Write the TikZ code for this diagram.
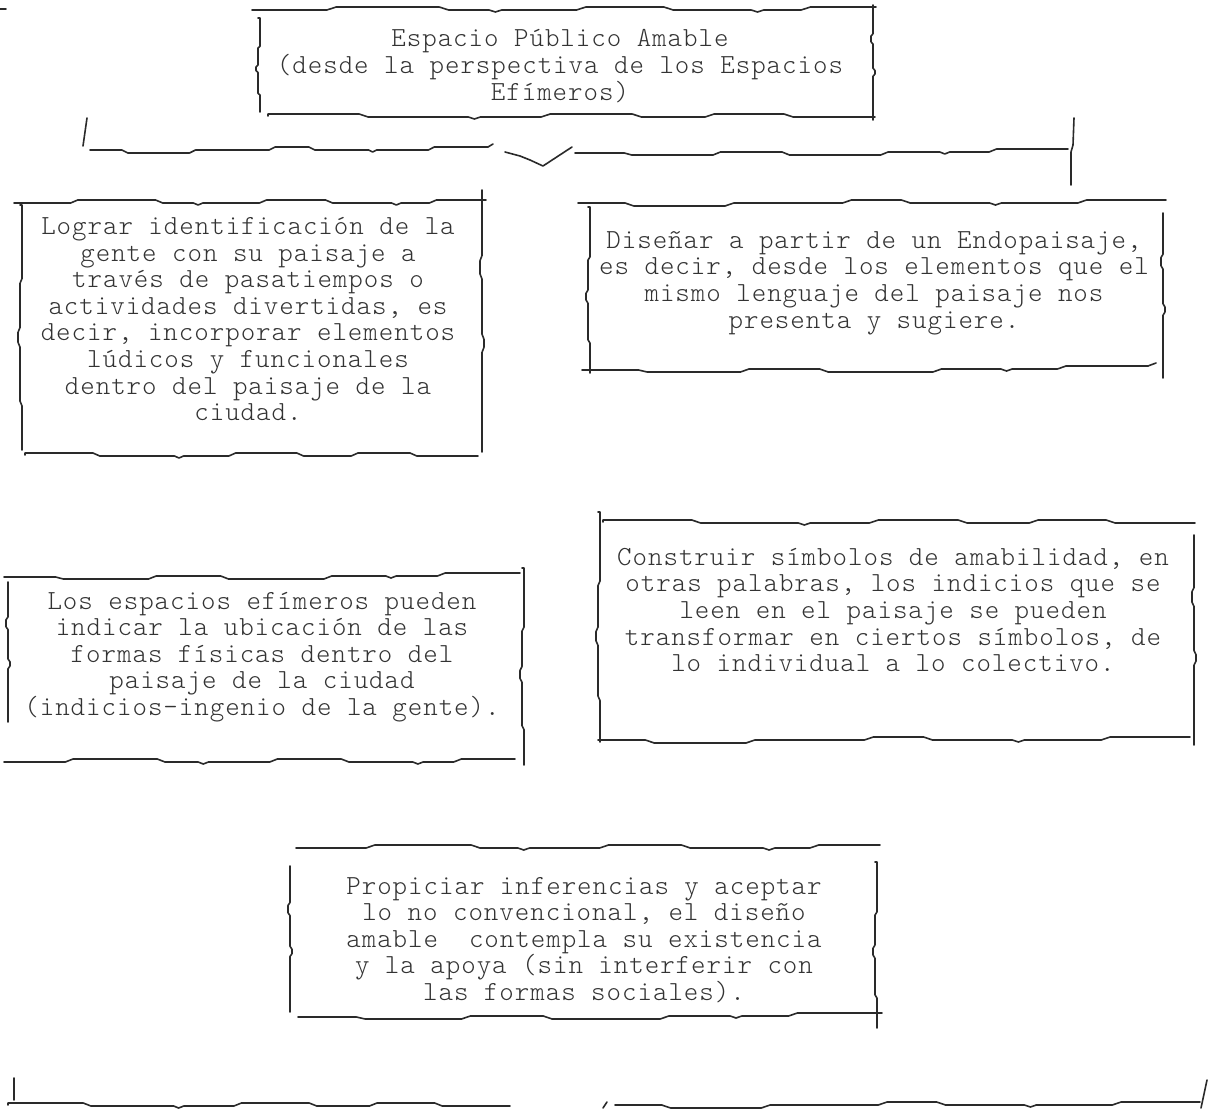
\documentclass[tikz,border=0pt]{standalone}
\usepackage{fontspec}
\newfontfamily\boxfont[LetterSpace=3.5]{Latin Modern Mono Light}
\definecolor{ink}{HTML}{2A2A2A}
\definecolor{txt}{HTML}{333333}
\tikzset{
  edge/.style={draw=ink,line width=0.8pt,line join=round,line cap=round},
  lbl/.style={font=\boxfont\fontsize{13.8}{13.3}\selectfont,text=txt,align=center,inner sep=0pt}
}
% horizontal wobbly edge: x1, x2, y, pattern (fraction/offset)
\newcommand\hedge[4]{\draw[edge] (#1,#3) \foreach \f/\d in #4 { -- ({#1+(#2-#1)*\f},{#3+\d}) };}
% vertical wobbly edge: y1, y2, x, pattern
\newcommand\vedge[4]{\draw[edge] (#3,#1) \foreach \f/\d in #4 { -- ({#3+\d},{#1+(#2-#1)*\f}) };}
\def\PA{0/0, .12/0, .135/-3, .30/-3, .315/0, .38/0, .39/2, .40/0, .52/0, .535/-3, .66/-3, .675/0, .80/0, .81/2, .82/0, .88/0, .895/-3, 1/-3}
\def\PB{0/-2, .15/-2, .165/1, .33/1, .34/3, .35/1, .45/1, .465/-2, .60/-2, .615/1, .72/1, .735/-2, .85/-2, .865/1, 1/1}
\def\PC{0/0, .08/0, .095/3, .25/3, .265/0, .45/0, .465/-3, .55/-3, .565/0, .70/0, .71/2, .72/0, .85/0, .865/-3, 1/-3}
\def\PD{0/0, .1/0, .115/2, .28/2, .295/-1, .42/-1, .435/2, .62/2, .635/-1, .74/-1, .75/1, .76/-1, .84/-1, .855/-4, 1/-4}
\def\VA{0/0, .25/0, .27/-2, .32/-2, .34/0, .55/0, .57/2, .60/2, .62/0, 1/0}
\def\VB{0/2, .3/2, .32/0, .5/0, .52/-2, .56/-2, .58/0, .8/0, .82/2, 1/2}
\begin{document}
\begin{tikzpicture}[x=0.5pt,y=-0.5pt]
\useasboundingbox (0,0) rectangle (1210,1113);
\fill[white] (0,0) rectangle (1210,1113);

% ---- top box
\node[lbl] (top) at (560,66) {Espacio Público Amable\\(desde la perspectiva de los Espacios\\Efímeros)};
\draw[edge] (0,9) -- (6,9);
\hedge{252}{876}{10}{\PA}
\vedge{5}{120}{873}{\VA}
\vedge{18}{112}{258}{\VB}
\hedge{268}{875}{116}{\PB}

% ---- brace under the top box
\draw[edge] (87,118) -- (83,146);
\hedge{90}{488}{150}{\PC}
\draw[edge] (488,147) -- (493,144);
\draw[edge] (505,152) -- (520,156) -- (530,160) -- (543,166) -- (572,147);
\hedge{575}{1068}{153}{\PD}
\draw[edge] (1074,118) -- (1073,145) -- (1071,152) -- (1071,185);

% ---- box A
\node[lbl] (lograr) at (248,319) {Lograr identificación de la\\gente con su paisaje a\\través de pasatiempos o\\actividades divertidas, es\\decir, incorporar elementos\\lúdicos y funcionales\\dentro del paisaje de la\\ciudad.};
\hedge{14}{486}{203}{\PA}
\vedge{190}{452}{482}{\VA}
\vedge{205}{450}{20}{\VB}
\hedge{25}{478}{455}{\PB}

% ---- box B
\node[lbl] (disenar) at (874,283) {Diseñar a partir de un Endopaisaje,\\es decir, desde los elementos que el\\mismo lenguaje del paisaje nos\\presenta y sugiere.};
\hedge{578}{1166}{203}{\PC}
\vedge{207}{373}{588}{\VB}
\vedge{213}{378}{1163}{\VA}
\hedge{582}{1148}{370}{\PD}
\draw[edge] (1148,366) -- (1156,363);

% ---- box C
\node[lbl] (espacios) at (262,657) {Los espacios efímeros pueden\\indicar la ubicación de las\\formas físicas dentro del\\paisaje de la ciudad\\(indicios-ingenio de la gente).};
\hedge{4}{520}{577}{\PD}
\vedge{582}{722}{8}{\VA}
\vedge{568}{765}{522}{\VB}
\hedge{4}{515}{762}{\PA}

% ---- box D
\node[lbl] (construir) at (893,610) {Construir símbolos de amabilidad, en\\otras palabras, los indicios que se\\leen en el paisaje se pueden\\transformar en ciertos símbolos, de\\lo individual a lo colectivo.};
\vedge{512}{742}{598}{\VB}
\hedge{603}{1195}{522}{\PB}
\vedge{535}{745}{1194}{\VA}
\hedge{598}{1190}{740}{\PC}

% ---- box E
\node[lbl] (propiciar) at (584,940) {Propiciar inferencias y aceptar\\lo no convencional, el diseño\\amable\ \ contempla su existencia\\y la apoya (sin interferir con\\las formas sociales).};
\hedge{296}{880}{848}{\PA}
\vedge{866}{1012}{290}{\VA}
\vedge{862}{1028}{875}{\VB}
\hedge{298}{882}{1017}{\PD}

% ---- bottom brace
\draw[edge] (14,1078) -- (14,1100);
\hedge{8}{510}{1105}{\PB}
\draw[edge] (603,1108) -- (607,1102);
\hedge{615}{1200}{1105}{\PC}
\draw[edge] (1207,1080) -- (1201,1108);
\end{tikzpicture}
\end{document}
